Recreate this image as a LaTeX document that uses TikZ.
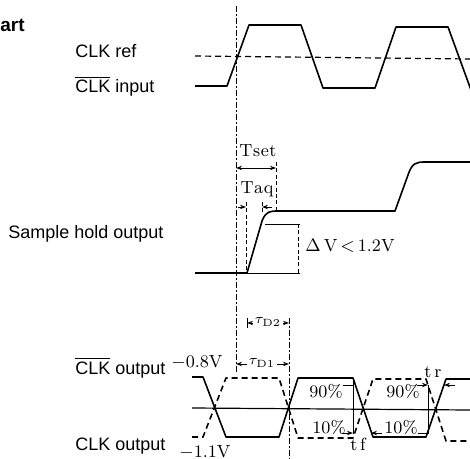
\documentclass[tikz,border=0pt]{standalone}
\usepackage{fontspec}
\setsansfont{Liberation Sans}
\usetikzlibrary{arrows.meta}
\begin{document}
\begin{tikzpicture}[x=0.5pt,y=-0.5pt,
  wave/.style={line width=0.8pt, line join=round},
  dwave/.style={wave, dash pattern=on 3pt off 2pt},
  dim/.style={line width=0.45pt},
  guide/.style={line width=0.4pt, dash pattern=on 3pt off 1.2pt on 0.6pt off 1.2pt},
  thindash/.style={line width=0.4pt, dash pattern=on 2pt off 1.2pt},
  sans/.style={font=\fontsize{9}{10}\selectfont\sffamily, inner sep=0pt, anchor=base west},
  serif/.style={font=\fontsize{8.8}{9}\selectfont, inner sep=0pt, anchor=base},
  tip/.style={-{Stealth[length=3pt,width=2.2pt]}, dim},
  both/.style={{Stealth[length=3pt,width=2.2pt]}-{Stealth[length=3pt,width=2.2pt]}, dim}
]
\useasboundingbox (0,0) rectangle (470,459);

% ---------- labels (left) ----------
\node[sans, font=\fontsize{9.5}{10}\selectfont\sffamily\bfseries] (title) at (0,32) {art};
\node[sans] (clkref) at (75,58) {CLK ref};
\node[sans] (clkin) at (75,93) {$\overline{\hbox{CLK}}$ input};
\node[sans] (sho) at (8,239) {Sample hold output};
\node[sans] (clkbo) at (75,374) {$\overline{\hbox{CLK}}$ output};
\node[sans] (clko) at (75,450) {CLK output};
\node[serif, anchor=base west] (v08) at (171,367) {$-$0.8V};
\node[serif, anchor=base west] (v11) at (179,457) {$-$1.1V};

% ---------- reference vertical ----------
\coordinate (gtop) at (236,6);
\coordinate (gbot) at (236,372);
\draw[guide] (gtop) -- (gbot);

% ---------- CLK ref / CLK input ----------
\coordinate (refL) at (195,56);
\coordinate (refR) at (470,59);
\draw[dwave, line width=0.6pt] (refL) -- (refR);
\draw[wave] (195,86) -- (227,86) -- (249,25) -- (301,25) -- (323,88) -- (375,88)
  -- (396,27) -- (448,27) -- (471,90);

% ---------- sample hold ----------
\draw[wave] (195,273) -- (247,273) -- (262,221) .. controls (266,211) and (270,211) .. (279,211)
  -- (395,211) -- (408,175) .. controls (412,163) and (416,162) .. (425,162) -- (470,162);

% Tset
\node[serif] (tset) at (258,157) {T\kern0.3pt s\kern0.3pt e\kern0.3pt t};
\coordinate (ts1) at (236,168);
\coordinate (ts2) at (276,168);
\draw[both] (ts1) -- (ts2);
\draw[thindash] (276,162) -- (276,210);
% Taq
\node[serif] (taq) at (257,194) {T\kern0.3pt a\kern0.3pt q};
\coordinate (ta1) at (246,207);
\coordinate (ta2) at (262,207);
\draw[tip] (238,207) -- (ta1);
\draw[tip] (272,207) -- (ta2);
\draw[thindash] (246,202) -- (246,273);
\draw[thindash] (262,202) -- (262,214);
% Delta V
\draw[dim] (265,224) -- (300,224);
\draw[dim] (247,273) -- (300,273);
\draw[thindash] (298,224) -- (298,273);
\node[serif, anchor=base west] (dv) at (305,252) {$\Delta$\,V$\,<\,$1.2V};

% ---------- output waveforms ----------
\coordinate (cL) at (192,408);
\coordinate (cR) at (470,410);
\draw[wave, line width=0.6pt] (cL) -- (cR);
\draw[wave] (192,377) -- (203,377) -- (226,437) -- (279,437) -- (298,378) -- (353,378)
  -- (373,437) -- (426,437) -- (446,379) -- (470,379);
\draw[dwave] (192,437) -- (203,437) -- (226,378) -- (279,378) -- (298,438) -- (353,438)
  -- (373,379) -- (426,379) -- (446,441) -- (470,441);

% tau D vertical
\draw[guide] (289,318) -- (289,459);
% tau D2
\coordinate (d2a) at (247,323);
\coordinate (d2b) at (289,323);
\draw[both] (d2a) -- (d2b);
\draw[dim] (247,318) -- (247,328);
\node[serif, fill=white, inner sep=1pt, anchor=center, font=\fontsize{7.5}{8}\selectfont] (tD2) at (268,322) {$\tau_{\mathrm{D2}}$};
% tau D1
\coordinate (d1a) at (236,364);
\coordinate (d1b) at (289,364);
\draw[both] (d1a) -- (d1b);
\node[serif, fill=white, inner sep=1pt, anchor=center, font=\fontsize{7.5}{8}\selectfont] (tD1) at (262,363) {$\tau_{\mathrm{D1}}$};

% percentages
\node[serif] (p90a) at (326,397) {90\%};
\node[serif] (p90b) at (403,397) {90\%};
\node[serif] (p10a) at (329,433) {10\%};
\node[serif] (p10b) at (401,433) {10\%};
\draw[dim] (343,385) -- (353,385);
\draw[dim] (418,433) -- (428,433);

% tf
\draw[dim] (353,378) -- (353,434);
\draw[tip] (342,433) -- (353,433);
\draw[tip] (382,433) -- (371,433);
\node[serif] (tf) at (358,450) {t\,f};
% tr
\draw[dim] (428,385) -- (428,434);
\draw[tip] (417,385) -- (428,385);
\draw[tip] (455,385) -- (444,385);
\node[serif] (tr) at (433,377) {t\,r};
\end{tikzpicture}
\end{document}
